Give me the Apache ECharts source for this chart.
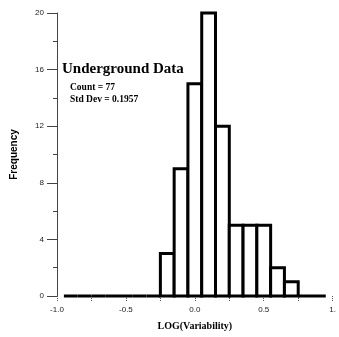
<!DOCTYPE html>
<html><head><meta charset="utf-8">
<script src="https://cdn.jsdelivr.net/npm/echarts@6/dist/echarts.min.js"></script>
<style>html,body{margin:0;padding:0;background:#fff}#c{width:339px;height:337px}</style>
</head><body><div id="c"></div>
<script>
const binCenters = [-0.9,-0.8,-0.7,-0.6,-0.5,-0.4,-0.3,-0.2,-0.1,0.0,0.1,0.2,0.3,0.4,0.5,0.6,0.7,0.8,0.9];
const counts     = [0,0,0,0,0,0,0,3,9,15,20,12,5,5,5,2,1,0,0];
const binWidth = 0.1;
const xTickLabels = {'-1':'-1.0','-0.5':'-0.5','0':'0.0','0.5':'0.5','1':'1.'};
const yTicks = [0,4,8,12,16,20];

const chart = echarts.init(document.getElementById('c'), null, {renderer:'canvas'});
const data = binCenters.map((c,i)=>[c,counts[i]]);
chart.setOption({
  animation:false,
  grid:{left:57,right:2,top:13,bottom:41,containLabel:false},
  xAxis:{type:'value',min:-1,max:1,interval:0.25,
    name:'LOG(Variability)',nameLocation:'middle',nameGap:25,
    nameTextStyle:{fontFamily:'Liberation Serif',fontWeight:'bold',fontSize:10,color:'#000'},
    axisLine:{show:false,onZero:false},
    axisTick:{show:true,length:5,lineStyle:{color:'#555',width:1,type:'dotted'}},
    splitLine:{show:false},
    axisLabel:{margin:10,fontFamily:'Liberation Sans',fontSize:8,color:'#222',
      formatter:v=>{const k=String(Math.round(v*100)/100);return xTickLabels[k]!==undefined?xTickLabels[k]:'';}}
  },
  yAxis:{type:'value',min:0,max:20,interval:4,
    name:'Frequency',nameLocation:'middle',nameGap:38,nameRotate:90,
    nameTextStyle:{fontFamily:'Liberation Sans',fontWeight:'bold',fontSize:10,color:'#000'},
    axisLine:{show:true,onZero:false,lineStyle:{color:'#444',width:1}},
    axisTick:{show:true,inside:false,length:10,lineStyle:{color:'#444',width:1}},
    minorTick:{show:true,splitNumber:2,length:4,lineStyle:{color:'#444',width:1}},
    splitLine:{show:false},
    axisLabel:{margin:13,fontFamily:'Liberation Sans',fontSize:8,color:'#222',
      formatter:v=>yTicks.indexOf(v)>=0?String(v):''}
  },
  graphic:[
    {type:'text',left:62,top:62,style:{text:'Underground Data',font:'bold 15px "Liberation Serif"',fill:'#000'}},
    {type:'text',left:70,top:83,style:{text:'Count = 77',font:'bold 9.5px "Liberation Serif"',fill:'#000'}},
    {type:'text',left:70,top:95,style:{text:'Std Dev = 0.1957',font:'bold 9.5px "Liberation Serif"',fill:'#000'}}
  ],
  series:[{
    type:'custom',
    data:data,
    renderItem:(params,api)=>{
      const c=api.value(0), v=api.value(1);
      const p0=api.coord([c-binWidth/2,v]);
      const p1=api.coord([c+binWidth/2,0]);
      return {type:'rect',shape:{x:p0[0],y:p0[1],width:p1[0]-p0[0],height:p1[1]-p0[1]},
        style:{fill:'#fff',stroke:'#000',lineWidth:3}};
    },
    encode:{x:0,y:1}
  }]
});
</script></body></html>
